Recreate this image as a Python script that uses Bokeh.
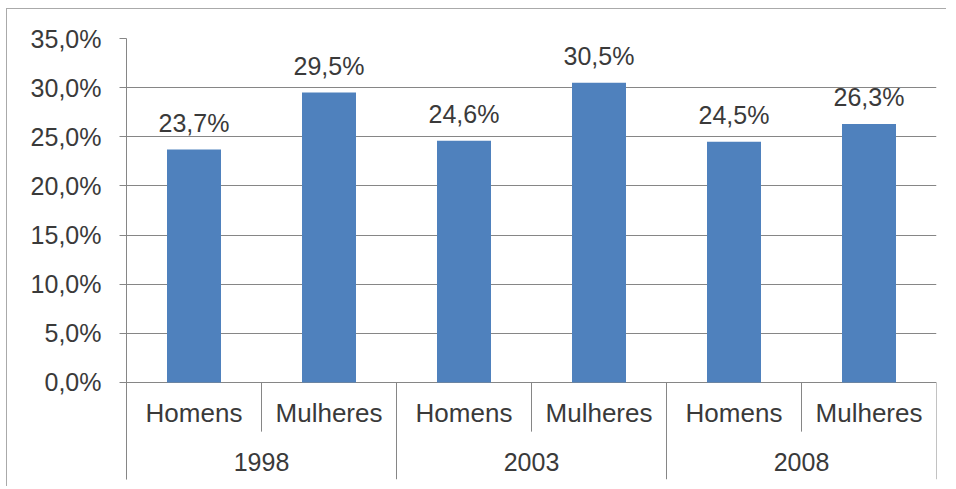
from bokeh.plotting import figure
from bokeh.models import FactorRange, Range1d, FixedTicker
from bokeh.embed import file_html
from bokeh.resources import INLINE
from bokeh.core.properties import value

# ---- data ----
years = ["1998", "2003", "2008"]
sexes = ["Homens", "Mulheres"]
values = [23.7, 29.5, 24.6, 30.5, 24.5, 26.3]
y_ticks = [0, 5, 10, 15, 20, 25, 30, 35]
y_tick_labels = ["0,0%", "5,0%", "10,0%", "15,0%", "20,0%", "25,0%", "30,0%", "35,0%"]

factors = [(y, s) for y in years for s in sexes]
value_labels = [f"{v:.1f}".replace(".", ",") + "%" for v in values]

FONT = value("Liberation Sans")
TXT = "#3a3a3a"
GRID = "#868686"
BAR = "#4F81BD"

y_min = -9.87
p = figure(
    width=940, height=478,
    x_range=FactorRange(*factors, factor_padding=0, group_padding=0, range_padding=0),
    y_range=Range1d(y_min, 35),
    output_backend="svg", toolbar_location=None,
    min_border_left=119, min_border_top=29, min_border_right=11, min_border_bottom=8,
)
p.styles = {"border-top": "1px solid #aaaaaa", "border-left": "1px solid #aaaaaa",
            "margin-left": "6px", "margin-top": "8px"}
p.outline_line_color = None
p.background_fill_color = "white"
p.border_fill_color = "white"

# y axis
ticker = FixedTicker(ticks=y_ticks)
p.yaxis.ticker = ticker
p.yaxis.major_label_overrides = {t: lab for t, lab in zip(y_ticks, y_tick_labels)}
p.yaxis.major_label_text_font = "Liberation Sans"
p.yaxis.major_label_text_font_size = "25px"
p.yaxis.major_label_text_color = TXT
p.yaxis.major_label_standoff = 18
p.yaxis.major_tick_out = 7
p.yaxis.major_tick_in = 0
p.yaxis.minor_tick_line_color = None
p.yaxis.axis_line_color = GRID
p.yaxis.major_tick_line_color = GRID
p.ygrid.ticker = ticker
p.ygrid.grid_line_color = GRID
p.xgrid.visible = False
p.xaxis.visible = False

# bars
p.vbar(x=factors, top=values, width=0.4, fill_color=BAR, line_color=None)

# value labels
p.text(x=factors, y=values, text=value_labels, text_align="center",
       text_baseline="alphabetic", y_offset=-27, text_font=FONT,
       text_font_size="25px", text_color=TXT)

# category axis (multi-level) drawn inside the frame below zero
sub_y = -3.15
grp_y = -8.04
p.text(x=factors, y=[sub_y] * len(factors), text=[f[1] for f in factors],
       text_align="center", text_baseline="middle", text_font=FONT,
       text_font_size="26px", text_color=TXT)
p.text(x=[(y, sexes[0], 0.5) for y in years], y=[grp_y] * len(years), text=years,
       text_align="center", text_baseline="middle", text_font=FONT,
       text_font_size="25px", text_color=TXT)

# separators
grp_x = [(y, sexes[0], -0.5) for y in years] + [(years[-1], sexes[-1], 0.5)]
p.segment(x0=grp_x, x1=grp_x, y0=[0] * len(grp_x), y1=[y_min] * len(grp_x),
          line_color=GRID, line_width=1)
sub_x = [(y, sexes[1], -0.5) for y in years]
p.segment(x0=sub_x, x1=sub_x, y0=[0] * len(sub_x), y1=[-5.0] * len(sub_x),
          line_color=GRID, line_width=1)

open("out.html", "w").write(file_html(p, INLINE))
